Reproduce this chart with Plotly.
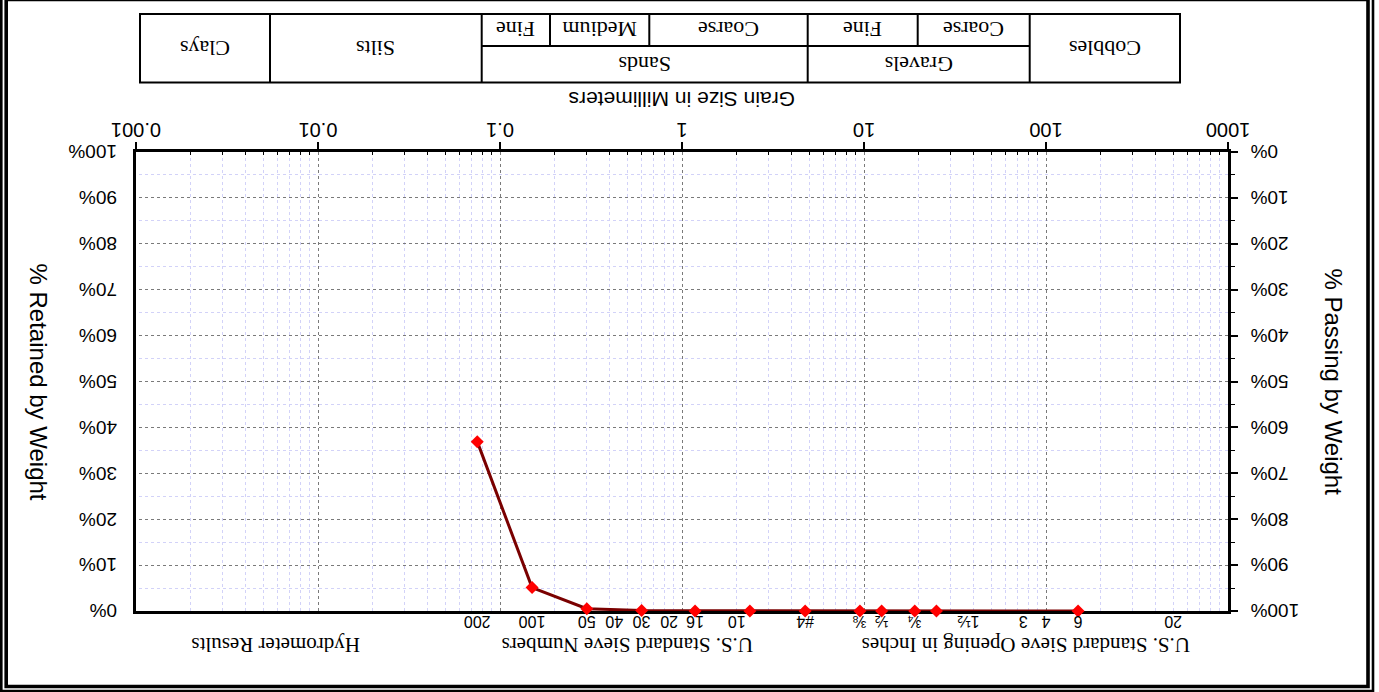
import plotly.graph_objects as go

# Sieve analysis results (particle size in mm, percent passing)
sieve_size_mm = [150, 25, 19, 12.5, 9.5, 4.75, 2.36, 1.18, 0.6, 0.3, 0.15, 0.075]
percent_passing = [100, 100, 100, 100, 100, 100, 100, 100, 99.9, 99.5, 94.9, 63.1]

# Grain size axis (mm)
size_ticks = [1000, 100, 10, 1, 0.1, 0.01, 0.001]
size_tick_text = ["1000", "100", "10", "1", "0.1", "0.01", "0.001"]
size_minor = [m * 10 ** k for k in range(-3, 3) for m in range(2, 10)]

# Sieve designations shown above the plot
sieve_label_mm = [500, 150, 100, 75, 37.5, 19, 12.5, 9.5, 4.75, 2.0, 1.18, 0.85,
                  0.6, 0.425, 0.3, 0.15, 0.075]
sieve_label_text = ["20", "6", "4", "3", "1½", "¾", "½", "⅜", "#4", "10", "16", "20",
                    "30", "40", "50", "100", "200"]

# Percent axes
pct_ticks = [0, 10, 20, 30, 40, 50, 60, 70, 80, 90, 100]
pct_tick_text = ["0%", "10%", "20%", "30%", "40%", "50%", "60%", "70%", "80%", "90%", "100%"]

# Soil classification table
class_top = ["Cobbles", "Gravels", "Sands", "Silts", "Clays"]
class_sub = ["Coarse", "Fine", "Coarse", "Medium", "Fine"]

# ---- page geometry (pixels) ----
W, H = 1379, 692
L, R, T, B = 151, 1243, 81, 540


def fx(px):
    return (px - L) / (R - L)


def fy(py):
    return (B - py) / (B - T)


SANS = "Liberation Sans, Arial, sans-serif"
SERIF = "Liberation Serif, Times New Roman, serif"

fig = go.Figure()

fig.add_trace(go.Scatter(
    x=sieve_size_mm, y=percent_passing, mode="lines+markers",
    line=dict(color="#7a0000", width=3),
    marker=dict(symbol="diamond", size=10, color="#ff0000", line=dict(width=0)),
    cliponaxis=False, showlegend=False, hoverinfo="x+y",
))
# empty trace so the secondary axes are attached to a subplot
fig.add_trace(go.Scatter(x=[], y=[], xaxis="x2", yaxis="y2", showlegend=False,
                         hoverinfo="skip"))

shapes = []


def rect(x0, y0, x1, y1, w):
    shapes.append(dict(type="rect", xref="paper", yref="paper",
                       x0=fx(x0), x1=fx(x1), y0=fy(y0), y1=fy(y1),
                       line=dict(color="black", width=w),
                       fillcolor="rgba(0,0,0,0)", layer="above"))


def seg(x0, y0, x1, y1, w):
    shapes.append(dict(type="line", xref="paper", yref="paper",
                       x0=fx(x0), x1=fx(x1), y0=fy(y0), y1=fy(y1),
                       line=dict(color="black", width=w), layer="above"))


# double page frame
rect(6, 1, 1377.7, 698, 2.6)
rect(11, 5.5, 1372.8, 692.6, 3.6)

# classification table
tx0, tx1, ty0, tmid, ty1 = 199, 1239, 609.5, 646, 678
col = [199, 349.3, 571.3, 897.3, 1109, 1239]
sub = [349.3, 461.3, 571.3, 729.7, 829, 897.3]
rect(tx0, ty0, tx1, ty1, 2)
for c in col[1:-1]:
    seg(c, ty0, c, ty1, 2)
seg(col[1], tmid, col[3], tmid, 2)
for c in (sub[1], sub[3], sub[4]):
    seg(c, tmid, c, ty1, 2)

ann = []


def text(s, px, py, size, family, angle=0):
    ann.append(dict(text=s, x=fx(px), y=fy(py), xref="paper", yref="paper",
                    showarrow=False, textangle=angle, xanchor="center", yanchor="middle",
                    font=dict(family=family, size=size, color="black")))


# table labels
spans_top = [(col[0], col[1], ty0, ty1), (col[1], col[2], ty0, tmid),
             (col[2], col[3], ty0, tmid), (col[3], col[4], ty0, ty1),
             (col[4], col[5], ty0, ty1)]
for name, (a, b, c, d) in zip(class_top, spans_top):
    text(name, (a + b) / 2, (c + d) / 2, 22, SERIF)
for i, name in enumerate(class_sub):
    text(name, (sub[i] + sub[i + 1]) / 2, (tmid + ty1) / 2, 22, SERIF)

# axis captions
text("Grain Size in Millimeters", (L + R) / 2, 592, 21, SANS)
text("U.S. Standard Sieve Opening in Inches", 353, 47, 21, SERIF)
text("U.S. Standard Sieve Numbers", 751, 47, 21, SERIF)
text("Hydrometer Results", 1103, 47, 21, SERIF)
text("% Passing by Weight", 46, (T + B) / 2, 24, SANS, -90)
text("% Retained by Weight", 1341, (T + B) / 2, 24, SANS, -90)

MAJOR_GRID = "#7a7a7a"
MINOR_GRID = "#d2d2f8"

fig.update_layout(
    width=W, height=H,
    margin=dict(l=L, r=W - R, t=T, b=H - B, autoexpand=False),
    paper_bgcolor="white", plot_bgcolor="white",
    showlegend=False,
    shapes=shapes, annotations=ann,
    xaxis=dict(
        type="log", range=[3, -3], tickmode="array", tickvals=size_ticks,
        ticktext=size_tick_text, ticks="outside", ticklen=7, tickwidth=1.5,
        tickcolor="black", tickfont=dict(family=SANS, size=20, color="black"),
        ticklabelstandoff=-5,
        showgrid=True, gridcolor=MAJOR_GRID, griddash="dot", gridwidth=1,
        minor=dict(tickmode="array", tickvals=size_minor, ticks="inside", ticklen=3,
                   tickwidth=1, tickcolor="black", showgrid=True,
                   gridcolor=MINOR_GRID, griddash="dot", gridwidth=1),
        showline=True, linecolor="black", linewidth=2.5, mirror=True,
        zeroline=False, layer="below traces", fixedrange=True,
    ),
    xaxis2=dict(
        type="log", range=[3, -3], overlaying="x", side="top", anchor="y",
        tickmode="array", tickvals=sieve_label_mm, ticktext=sieve_label_text,
        ticks="", showgrid=False, showline=False, zeroline=False,
        tickfont=dict(family=SANS, size=16, color="black"), ticklabelstandoff=1,
        fixedrange=True,
    ),
    yaxis=dict(
        range=[0, 100], tickmode="array", tickvals=pct_ticks, ticktext=pct_tick_text,
        ticks="outside", ticklen=7, tickwidth=1.5, tickcolor="black",
        tickfont=dict(family=SANS, size=19, color="black"), ticklabelstandoff=9,
        showgrid=True, gridcolor=MAJOR_GRID, griddash="dot", gridwidth=1,
        minor=dict(dtick=5, ticks="outside", ticklen=4, tickwidth=1,
                   tickcolor="black", showgrid=True, gridcolor=MINOR_GRID,
                   griddash="dot", gridwidth=1),
        showline=True, linecolor="black", linewidth=2.5, mirror=True,
        zeroline=False, layer="below traces", fixedrange=True,
    ),
    yaxis2=dict(
        range=[100, 0], overlaying="y", side="right", anchor="x",
        tickmode="array", tickvals=pct_ticks, ticktext=pct_tick_text, ticks="",
        tickfont=dict(family=SANS, size=19, color="black"), ticklabelstandoff=18,
        showgrid=False, showline=False, zeroline=False, fixedrange=True,
    ),
)

# the sheet is presented turned half a revolution
post = (
    "document.body.style.margin='0';"
    "document.body.style.overflow='hidden';"
    "var gd=document.getElementById('{plot_id}');"
    "gd.style.transformOrigin='50% 50%';"
    "gd.style.transform='rotate(180deg)';"
)

fig.write_html("out.html", post_script=post, config={"displayModeBar": False})
